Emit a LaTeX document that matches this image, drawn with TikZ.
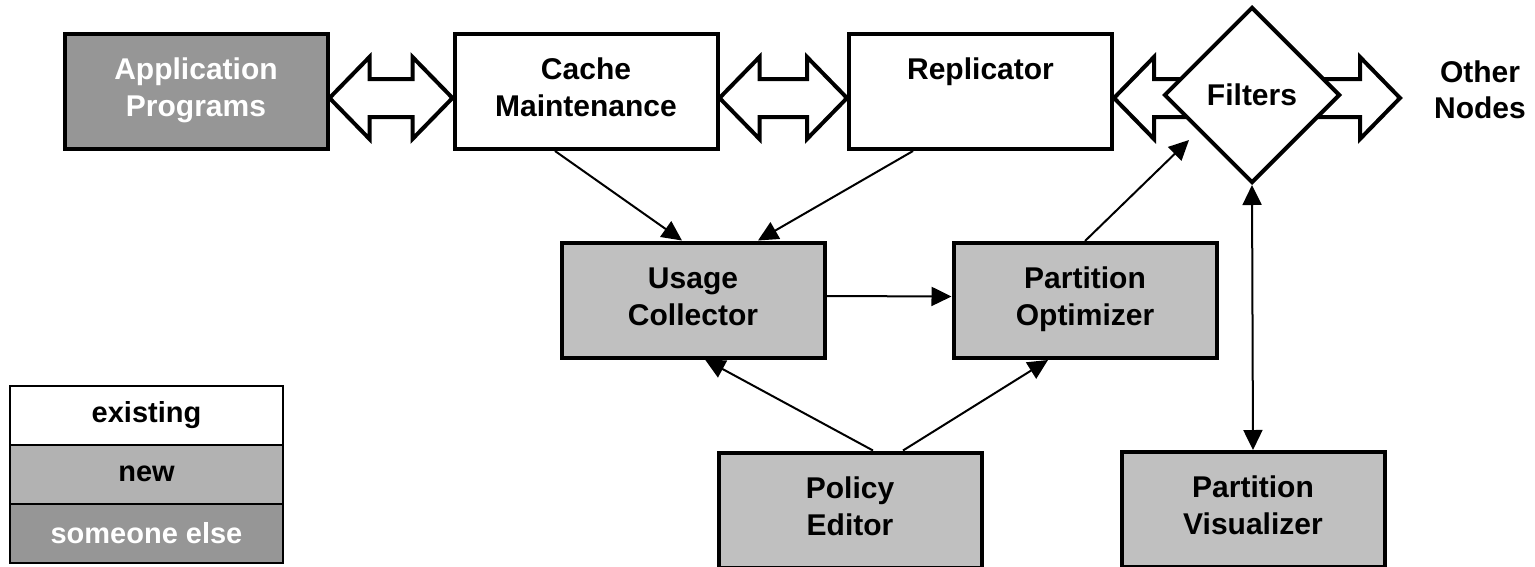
\documentclass[tikz,border=0pt]{standalone}
\usepackage{fontspec}
\setmainfont{Liberation Sans}
\usepackage{tikz}
\usetikzlibrary{positioning, shapes.geometric, arrows.meta, calc}
\definecolor{oldblock}{gray}{1.00}
\definecolor{newblock}{RGB}{192, 192, 192}
\definecolor{extblock}{RGB}{150, 150, 150}
\definecolor{legnew}{RGB}{178, 178, 178}

\tikzset{
  block/.style={draw=black, line width=4pt, minimum width=263pt, minimum height=115pt,
    align=center, font=\fontsize{30}{37}\selectfont\bfseries, inner sep=0pt,
    text height=57pt, text depth=7pt},
  legrow/.style={draw=black, line width=2pt, minimum width=273pt, minimum height=59pt,
    outer sep=0pt, font=\fontsize{29}{35}\selectfont\bfseries},
  fat/.style={draw=black, fill=white, line width=4pt, line join=miter},
  link/.style={line width=2pt, -{Triangle[length=20pt, width=19pt]}},
}

% hollow double arrow, between two points at the height of the first
\newcommand{\fatarrow}[2]{%
  \path[fat] let \p1=#1, \p2=#2 in
    (\x1,\y1) -- (\x1+40pt,\y1+41pt) -- (\x1+40pt,\y1+19pt) -- (\x2-40pt,\y1+19pt)
    -- (\x2-40pt,\y1+41pt) -- (\x2,\y1) -- (\x2-40pt,\y1-41pt) -- (\x2-40pt,\y1-19pt)
    -- (\x1+40pt,\y1-19pt) -- (\x1+40pt,\y1-41pt) -- cycle;}

\begin{document}
\begin{tikzpicture}[x=1pt, y=-1pt]
  \useasboundingbox (0,0) rectangle (1535,566);

  % top row
  \node[block, fill=extblock, text=white] (app) at (196,91.5) {Application\\Programs};
  \node[block, fill=oldblock] (cache) at (586,91.5) {Cache\\Maintenance};
  \node[block, fill=oldblock] (repl) at (980.5,91.5) {Replicator\\\mbox{}};
  \coordinate (out) at (1400,98);

  \fatarrow{([yshift=-6.5pt]app.east)}{([yshift=-6.5pt]cache.west)}
  \fatarrow{([yshift=-6.5pt]cache.east)}{([yshift=-6.5pt]repl.west)}
  \fatarrow{([yshift=-6.5pt]repl.east)}{(out)}

  \node[diamond, draw=black, fill=white, line width=4pt, minimum width=176pt, minimum height=176pt,
    inner sep=0pt, font=\fontsize{30}{37}\selectfont\bfseries] (filters) at (1252,95) {Filters};
  \node[align=center, font=\fontsize{30}{36}\selectfont\bfseries] (others) at (1480,90) {Other\\Nodes};

  % new parts
  \node[block, fill=newblock] (usage) at (693,300) {Usage\\Collector};
  \node[block, fill=newblock] (opt) at (1085,300.5) {Partition\\Optimizer};
  \node[block, fill=newblock] (policy) at (850,510) {Policy\\Editor};
  \node[block, fill=newblock] (vis) at (1253,509.5) {Partition\\Visualizer};

  \draw[link] ([xshift=-31pt]cache.south) -- ([xshift=-11pt]usage.north);
  \draw[link] ([xshift=-67.5pt]repl.south) -- ([xshift=65pt]usage.north);
  \draw[link] ([yshift=4pt]usage.east) -- ([yshift=4pt]opt.west);
  \draw[link] (opt.north) -- ([xshift=-18pt]filters.south west);
  \draw[link] ([xshift=23pt]policy.north) -- ([xshift=12pt]usage.south);
  \draw[link] ([xshift=53pt]policy.north) -- ([xshift=-37pt]opt.south);
  \draw[link, {Triangle[length=20pt, width=19pt]}-{Triangle[length=20pt, width=19pt]}]
    (filters.south) -- (vis.north);

  % legend
  \node[legrow, fill=white] (lold) at (146.5,415) {existing};
  \node[legrow, fill=legnew, below=0pt of lold] (lnew) {new};
  \node[legrow, fill=extblock, text=white, below=0pt of lnew] (lext) {someone else};
\end{tikzpicture}
\end{document}
